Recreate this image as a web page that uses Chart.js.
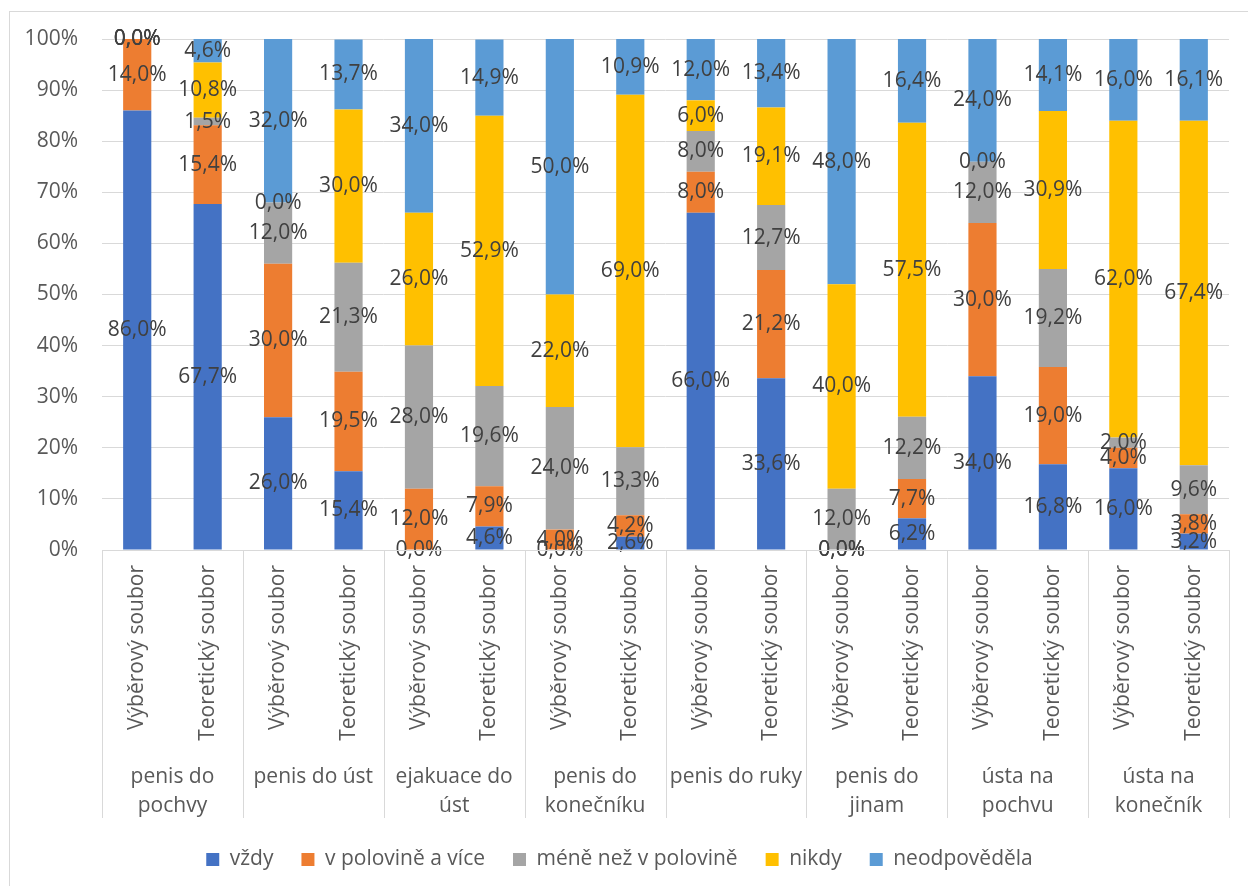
<!DOCTYPE html>
<html>
<head>
<meta charset="utf-8">
<script src="https://cdn.jsdelivr.net/npm/chart.js@4.4.1/dist/chart.umd.min.js"></script>
<style>
  html, body { margin: 0; padding: 0; background: #fff; }
  #wrap { width: 1248px; height: 886px; position: relative; }
</style>
</head>
<body>
<div id="wrap"><canvas id="chart"></canvas></div>
<script>
// sub-categories (one bar each) and their groups
const subLabels = [
  "Výběrový soubor", "Teoretický soubor", "Výběrový soubor", "Teoretický soubor",
  "Výběrový soubor", "Teoretický soubor", "Výběrový soubor", "Teoretický soubor",
  "Výběrový soubor", "Teoretický soubor", "Výběrový soubor", "Teoretický soubor",
  "Výběrový soubor", "Teoretický soubor", "Výběrový soubor", "Teoretický soubor"
];
const groupLabels = [
  ["penis do", "pochvy"], ["penis do úst"], ["ejakuace do", "úst"], ["penis do", "konečníku"],
  ["penis do ruky"], ["penis do", "jinam"], ["ústa na", "pochvu"], ["ústa na", "konečník"]
];
const seriesNames = ["vždy", "v polovině a více", "méně než v polovině", "nikdy", "neodpověděla"];
const seriesColors = ["#4472C4", "#ED7D31", "#A5A5A5", "#FFC000", "#5B9BD5"];

const vzdy        = [86.0, 67.7, 26.0, 15.4, 0.0, 4.6, 0.0, 2.6, 66.0, 33.6, 0.0, 6.2, 34.0, 16.8, 16.0, 3.2];
const polovina    = [14.0, 15.4, 30.0, 19.5, 12.0, 7.9, 4.0, 4.2, 8.0, 21.2, 0.0, 7.7, 30.0, 19.0, 4.0, 3.8];
const meneNez     = [0.0, 1.5, 12.0, 21.3, 28.0, 19.6, 24.0, 13.3, 8.0, 12.7, 12.0, 12.2, 12.0, 19.2, 2.0, 9.6];
const nikdy       = [0.0, 10.8, 0.0, 30.0, 26.0, 52.9, 22.0, 69.0, 6.0, 19.1, 40.0, 57.5, 0.0, 30.9, 62.0, 67.4];
const neodpovedela = [0.0, 4.6, 32.0, 13.7, 34.0, 14.9, 50.0, 10.9, 12.0, 13.4, 48.0, 16.4, 24.0, 14.1, 16.0, 16.1];

const yTicks = [0, 10, 20, 30, 40, 50, 60, 70, 80, 90, 100];

const FONT = '"Open Sans", "Noto Sans", sans-serif';
const allSeries = [vzdy, polovina, meneNez, nikdy, neodpovedela];

// data labels in the middle of each segment, plus the two-level category axis
const excelBits = {
  id: "excelBits",
  afterDatasetsDraw(chart) {
    const ctx = chart.ctx;
    ctx.save();
    ctx.font = "21px " + FONT;
    ctx.fillStyle = "#404040";
    ctx.textAlign = "center";
    ctx.textBaseline = "middle";
    chart.data.datasets.forEach((ds, i) => {
      const meta = chart.getDatasetMeta(i);
      meta.data.forEach((bar, j) => {
        const y = (bar.y + bar.base) / 2;
        ctx.fillText(ds.data[j].toFixed(1).replace(".", ",") + "%", bar.x, y);
      });
    });
    ctx.restore();
  },
  afterDraw(chart) {
    const ctx = chart.ctx;
    const area = chart.chartArea;
    const x = chart.scales.x;
    const step = (area.right - area.left) / subLabels.length;
    ctx.save();
    ctx.strokeStyle = "#d9d9d9";
    ctx.lineWidth = 1;
    // outer frame
    ctx.strokeRect(9.5, 11.5, 1260, 900);
    // axis line
    ctx.beginPath();
    ctx.moveTo(area.left, Math.round(area.bottom) + 0.5);
    ctx.lineTo(area.right, Math.round(area.bottom) + 0.5);
    ctx.stroke();
    // group dividers
    for (let k = 0; k <= groupLabels.length; k++) {
      const gx = Math.round(area.left + k * 2 * step) + 0.5;
      ctx.beginPath();
      ctx.moveTo(gx, area.bottom);
      ctx.lineTo(gx, area.bottom + 268);
      ctx.stroke();
    }
    ctx.fillStyle = "#595959";
    ctx.font = "21px " + FONT;
    // rotated sub labels
    subLabels.forEach((lab, i) => {
      const px = x.getPixelForValue(i);
      ctx.save();
      ctx.translate(px, area.bottom + 15);
      ctx.rotate(-Math.PI / 2);
      ctx.textAlign = "right";
      ctx.textBaseline = "middle";
      ctx.fillText(lab, 0, 0);
      ctx.restore();
    });
    // group labels
    ctx.textAlign = "center";
    ctx.textBaseline = "middle";
    groupLabels.forEach((lines, k) => {
      const cx = area.left + (k * 2 + 1) * step;
      lines.forEach((ln, m) => ctx.fillText(ln, cx, area.bottom + 227 + m * 29));
    });
    ctx.restore();
  }
};

new Chart(document.getElementById("chart"), {
  type: "bar",
  data: {
    labels: subLabels,
    datasets: allSeries.map((d, i) => ({
      label: seriesNames[i],
      data: d,
      backgroundColor: seriesColors[i],
      borderWidth: 0,
      categoryPercentage: 1,
      barPercentage: 0.4
    }))
  },
  options: {
    responsive: true,
    maintainAspectRatio: false,
    animation: false,
    layout: { padding: { top: 39, left: 10, right: 19, bottom: 6 } },
    scales: {
      x: {
        stacked: true,
        grid: { display: false },
        border: { display: false },
        ticks: { display: false },
        afterFit: (s) => { s.height = 271; }
      },
      y: {
        stacked: true,
        min: 0,
        max: 100,
        afterBuildTicks: (s) => { s.ticks = yTicks.map(v => ({ value: v })); },
        ticks: {
          color: "#595959",
          font: { family: FONT, size: 21 },
          padding: 24,
          callback: (v) => v + "%"
        },
        grid: { color: "#d9d9d9", drawTicks: false },
        border: { display: false },
        afterFit: (s) => { s.width = 92; }
      }
    },
    plugins: {
      legend: {
        position: "bottom",
        labels: {
          color: "#595959",
          font: { family: FONT, size: 21 },
          boxWidth: 13,
          boxHeight: 13,
          padding: 28
        }
      },
      tooltip: { enabled: false }
    }
  },
  plugins: [excelBits]
});
</script>
</body>
</html>
